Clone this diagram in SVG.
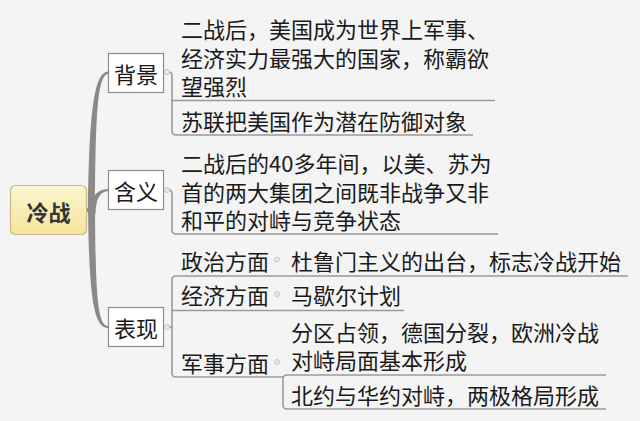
<svg xmlns="http://www.w3.org/2000/svg" width="640" height="421" viewBox="0 0 640 421">
<defs>
<linearGradient id="yel" x1="0" y1="0" x2="0" y2="1">
<stop offset="0" stop-color="#fcf6cf"/>
<stop offset="1" stop-color="#f4e49a"/>
</linearGradient>
</defs>
<style>
text{font-family:"Noto Sans CJK SC","Noto Sans",sans-serif;font-size:22px;fill:#1a1a1a;dominant-baseline:central}
.box{fill:#ffffff;stroke:#8c8c8c;stroke-width:1.2}
.ln{fill:none;stroke:#9a9a9a;stroke-width:1.6}
.br{fill:#8a8a8a}
.dot{fill:#e3eaf6;stroke:#b5c5e0;stroke-width:1}
.c{text-anchor:middle}
</style>
<rect width="640" height="421" fill="#f4f4f4"/>
<g id="connectors">
<path class="br" d="M86,208 L92,208 L92,212 L86,212 Z"/>
<path class="br" d="M88,212 C89,120 93,72 108,71.5 L108,74 C97,75 95.5,120 95,212 Z"/>
<path class="br" d="M88.5,214 C91,196 97,189.5 108,189 L108,191 C99,192 96,200 95.5,214 Z"/>
<path class="br" d="M88,206 C89,300 94,328 108,328 L108,326 C98,325 95.5,300 95,206 Z"/>
<path class="ln" d="M169,72 Q172,72 172,76 L172,131 Q172,135 176,135 L473,135"/>
<path class="ln" d="M172,100.5 L495,100.5"/>
<path class="ln" d="M169,190 Q172,190 172,194 L172,230 Q172,234 176,234 L498,234"/>
<path class="ln" d="M169,327 L172,327"/>
<path class="ln" d="M628,276 L176,276 Q172,276 172,280 L172,373 Q172,377 176,377 L283,377"/>
<path class="ln" d="M172,310.5 L404,310.5"/>
<path class="ln" d="M606,375 L287,375 Q283,375 283,379 L283,405 Q283,409 287,409 L606,409"/>
</g>
<g id="center">
<rect x="10.5" y="185.5" width="76" height="49" rx="5" fill="url(#yel)" stroke="#c9b984" stroke-width="1.2"/>
<text class="c" x="48.5" y="211" style="font-weight:bold;fill:#333">冷战</text>
</g>
<g id="n-beijing">
<rect class="box" x="108.5" y="53.5" width="55" height="39"/>
<text class="c" x="136" y="73">背景</text>
<circle class="dot" cx="167" cy="72" r="2.5"/>
</g>
<g id="n-beijing-1">
<text x="181" y="27.5">二战后，美国成为世界上军事、<tspan x="181" y="56.5">经济实力最强大的国家，称霸欲</tspan><tspan x="181" y="85">望强烈</tspan></text>
</g>
<g id="n-beijing-2">
<text x="181" y="120">苏联把美国作为潜在防御对象</text>
</g>
<g id="n-hanyi">
<rect class="box" x="108.5" y="170.5" width="55" height="39"/>
<text class="c" x="136" y="190">含义</text>
<circle class="dot" cx="167" cy="190" r="2.5"/>
</g>
<g id="n-hanyi-1">
<text x="181" y="162">二战后的40多年间，以美、苏为<tspan x="181" y="190.5">首的两大集团之间既非战争又非</tspan><tspan x="181" y="219">和平的对峙与竞争状态</tspan></text>
</g>
<g id="n-biaoxian">
<rect class="box" x="108.5" y="307.5" width="55" height="39"/>
<text class="c" x="136" y="327">表现</text>
<circle class="dot" cx="167" cy="327" r="2.5"/>
</g>
<g id="n-zhengzhi">
<text x="181" y="259.5">政治方面</text>
<circle class="dot" cx="277" cy="259.5" r="2.5"/>
</g>
<g id="n-zhengzhi-1">
<text x="291" y="259.5">杜鲁门主义的出台，标志冷战开始</text>
</g>
<g id="n-jingji">
<text x="181" y="294">经济方面</text>
<circle class="dot" cx="277" cy="294" r="2.5"/>
</g>
<g id="n-jingji-1">
<text x="291" y="294">马歇尔计划</text>
</g>
<g id="n-junshi">
<text x="181" y="362">军事方面</text>
<circle class="dot" cx="277" cy="362" r="2.5"/>
</g>
<g id="n-junshi-1">
<text x="291" y="331">分区占领，德国分裂，欧洲冷战<tspan x="291" y="359">对峙局面基本形成</tspan></text>
</g>
<g id="n-junshi-2">
<text x="291" y="394">北约与华约对峙，两极格局形成</text>
</g>
</svg>
